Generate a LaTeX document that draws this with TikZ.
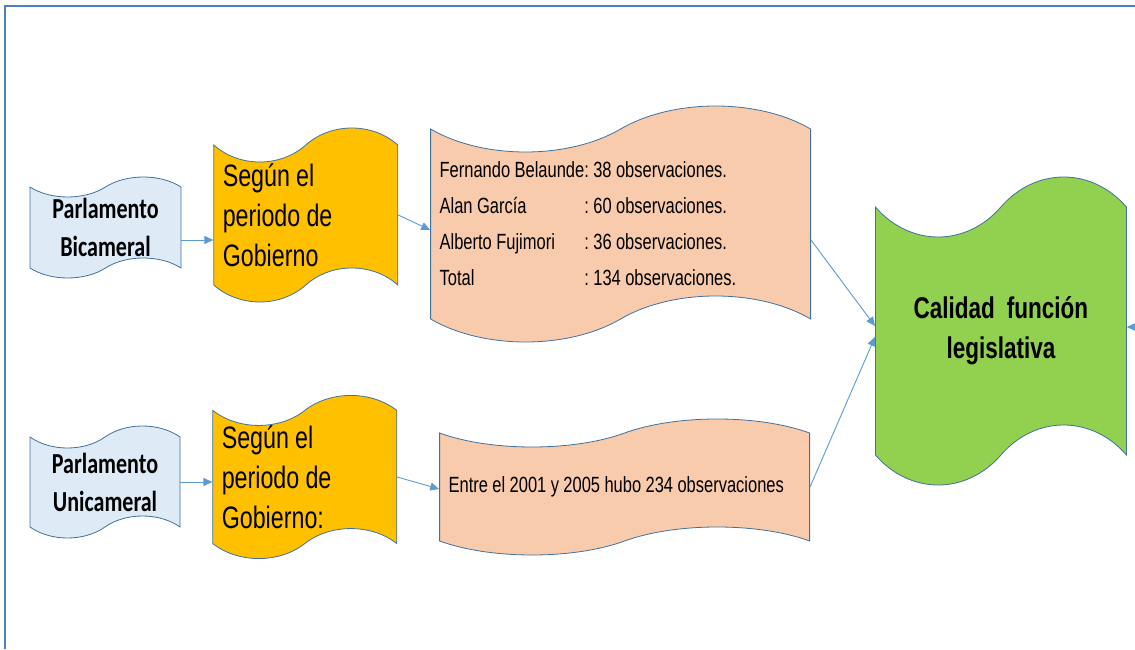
\documentclass[tikz,border=0pt]{standalone}
\usepackage{fontspec}
\setmainfont{Liberation Sans}[FakeStretch=0.75]
\newfontfamily\calibri{Carlito}[FakeStretch=0.76]
\usetikzlibrary{positioning,shapes.symbols,arrows.meta}

\definecolor{azulclaro}{HTML}{DEEBF7}
\definecolor{naranja}{HTML}{FFC000}
\definecolor{salmon}{HTML}{F8CBAD}
\definecolor{verde}{HTML}{92D050}
\definecolor{borde}{HTML}{41719C}
\definecolor{flecha}{HTML}{5B9BD5}
\definecolor{marco}{HTML}{4F81BD}

% narrow word gaps to go with the narrow letters
\newcommand{\estrecho}{\frenchspacing\spaceskip=0.2em plus 0.05em minus 0.05em\xspaceskip=0.2em\relax}

\begin{document}
\begin{tikzpicture}[%
    x=1pt, y=1pt,
    >={Triangle[length=9pt,width=8pt]}, % small filled heads
    node distance=32pt,                 % gap between the tapes
  ]
  \tikzset{
    base/.style={tape, draw=borde, line width=0.8pt, inner xsep=9pt, inner ysep=0pt, execute at begin node=\estrecho},
    camara/.style={base, fill=azulclaro, align=center, font=\calibri\bfseries\fontsize{29}{38}\selectfont},
    periodo/.style={base, fill=naranja, text width=166pt, align=left, font=\fontsize{31}{40}\selectfont},
    datos/.style={base, fill=salmon, align=left, font=\fontsize{22}{36}\selectfont},
    resultado/.style={base, fill=verde, align=center, font=\bfseries\fontsize{30}{40}\selectfont},
    link/.style={->, draw=flecha, line width=0.9pt},
    marco/.style={draw=marco, line width=2pt},
  }
  \useasboundingbox (0,0) rectangle (1135,649);

  % Frame
  \draw [marco] (5,0) -- (5,643) -- (1135,643);

  % Chambers on the left
  \node [camara, minimum width=151pt, minimum height=101pt, tape bend height=20pt] (bic) at (105.5,421.5) {Parlamento\\Bicameral};
  \node [camara, minimum width=150pt, minimum height=112pt, tape bend height=22pt] (uni) at (105,167) {Parlamento\\Unicameral};

  % Periods
  \node [periodo, minimum height=174pt, tape bend height=34pt, right=of bic, yshift=12.5pt] (seg1) {Según el\\periodo de\\Gobierno};
  \node [periodo, minimum height=150pt, tape bend height=30pt, right=of uni, yshift=5pt]    (seg2) {Según el\\periodo de\\Gobierno:};

  % Observations
  \node [datos, text width=362pt, minimum height=236pt, tape bend height=46pt, right=of seg1, yshift=-9pt] (obs1) {%
    \begin{tabular}{@{}l@{}l@{}}
      Fernando Belaunde&: 38 observaciones.\\
      Alan García\     &: 60 observaciones.\\
      Alberto Fujimori\ &: 36 observaciones.\\
      Total            &: 134 observaciones.
    \end{tabular}};
  \node [datos, text width=352pt, minimum height=136pt, tape bend height=28pt, right=42pt of seg2, yshift=-10pt] (obs2) {Entre el 2001 y 2005 hubo 234 observaciones};

  % Result
  \node [resultado, minimum width=251pt, minimum height=308pt, tape bend height=60pt, right=64pt of obs1, yshift=-107pt] (fin) {Calidad\ \ función\\legislativa};
  \coordinate (der) at (1135,322);

  % Flow
  \draw [link] ([yshift=-12.5pt]bic.east) -- ([yshift=-25pt]seg1.west);
  \draw [link] (uni.east) -- ([yshift=-5pt]seg2.west);
  \draw [link] (seg1.east) -- ([yshift=-6pt]obs1.west);
  \draw [link] (seg2.east) -- ([yshift=-2pt]obs2.west);
  \draw [link] ([yshift=-16pt]obs1.east) -- ([yshift=5pt]fin.west);
  \draw [link] (obs2.east) -- ([yshift=-6pt]fin.west);
  \draw [link] (der) -- ([yshift=4pt]fin.east);
\end{tikzpicture}
\end{document}
